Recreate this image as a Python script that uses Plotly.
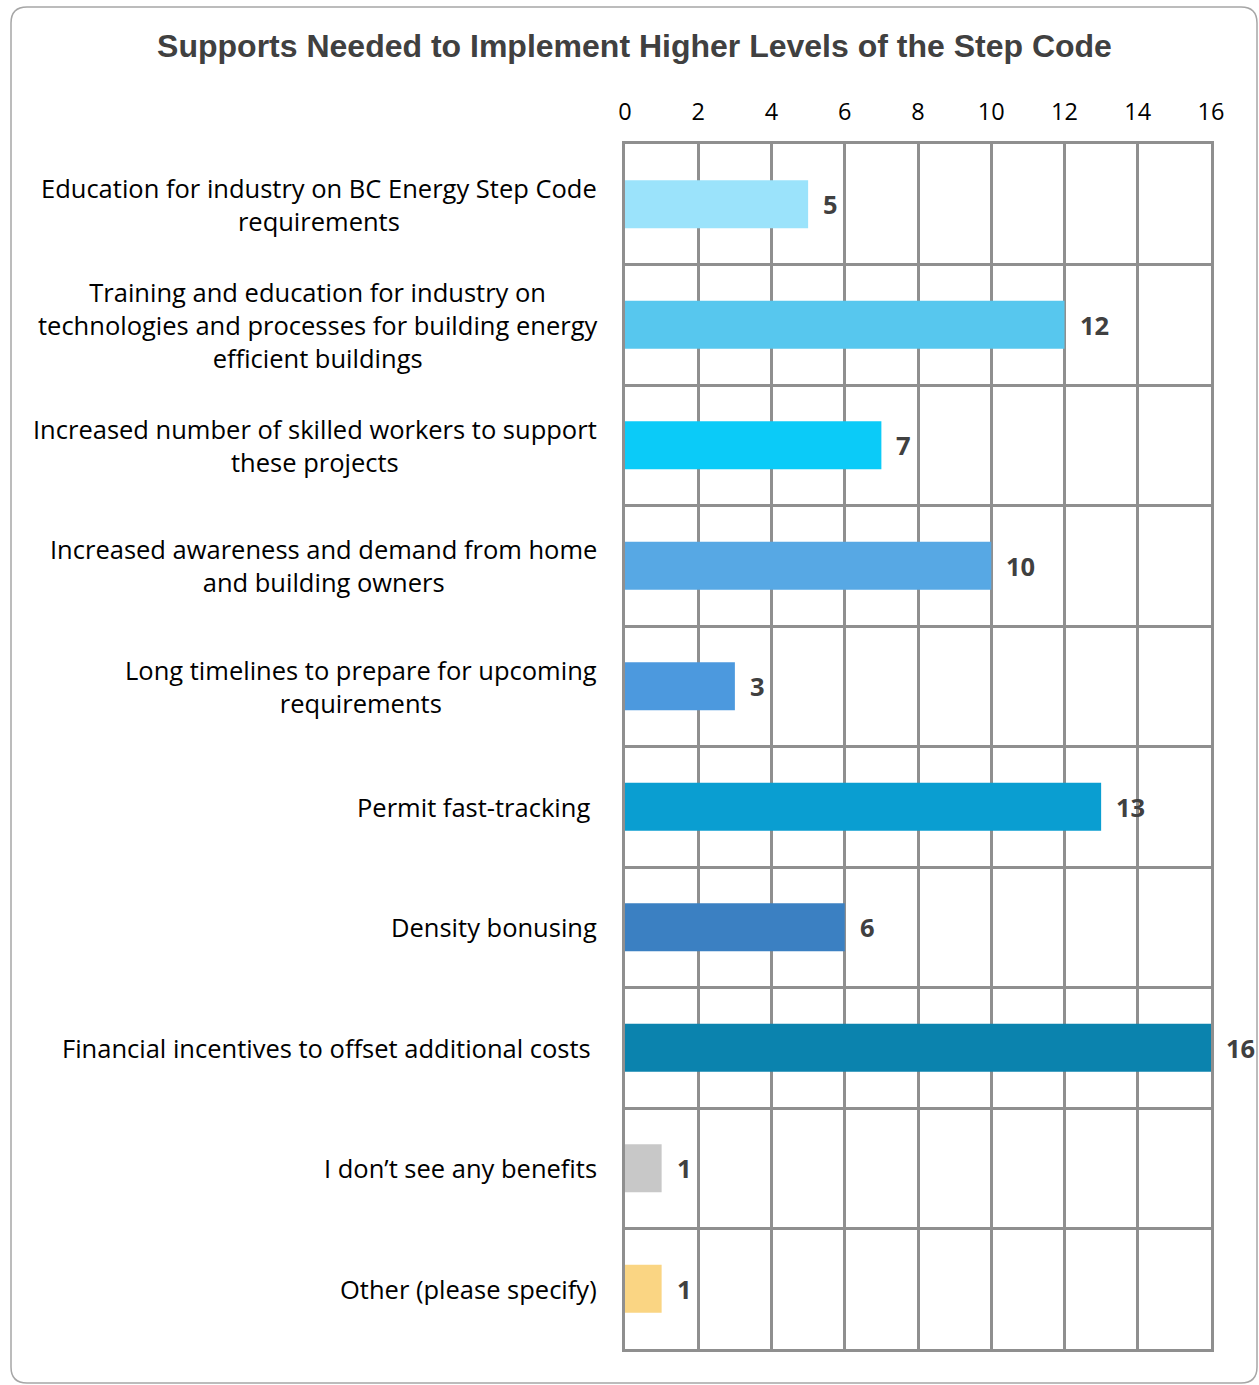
import plotly.graph_objects as go

categories = [
    "Education for industry on BC Energy Step Code<br>requirements",
    "Training and education for industry on<br>technologies and processes for building energy<br>efficient buildings",
    "Increased number of skilled workers to support<br>these projects",
    "Increased awareness and demand from home<br>and building owners",
    "Long timelines to prepare for upcoming<br>requirements",
    "Permit fast-tracking ",
    "Density bonusing",
    "Financial incentives to offset additional costs ",
    "I don’t see any benefits",
    "Other (please specify)",
]
values = [5, 12, 7, 10, 3, 13, 6, 16, 1, 1]
bar_colors = ["#9BE3FB", "#57C7EE", "#0BCBF8", "#57A8E4", "#4C99DE",
              "#0A9ED1", "#3B80C2", "#0B83AE", "#C8C8C8", "#FAD583"]
x_ticks = [0, 2, 4, 6, 8, 10, 12, 14, 16]

ids = [f"c{i}" for i in range(len(categories))]

W, H = 1259, 1385
L, R, T, B = 625, 48, 144, 36
pw, ph = W - L - R, H - T - B

fig = go.Figure()
fig.add_trace(go.Bar(
    y=ids, x=values, orientation="h",
    marker=dict(color=bar_colors, line=dict(width=0)),
    width=0.4, hoverinfo="skip",
))

grid = "#8F8F8F"
annotations = []
for cid, cat, v in zip(ids, categories, values):
    annotations.append(dict(
        xref="paper", yref="y", x=(599 - L) / pw, y=cid,
        xanchor="right", yanchor="middle", align="center",
        text=cat, showarrow=False,
        font=dict(family="Open Sans", size=25.5, color="#000000"),
    ))
    annotations.append(dict(
        xref="x", yref="y", x=v, y=cid, xanchor="left", yanchor="middle",
        xshift=13, text=f"<b>{v}</b>", showarrow=False,
        font=dict(family="Open Sans", size=25.5, color="#404040"),
    ))

def px2paper_x(px):
    return (px - L) / pw

def px2paper_y(py):
    return (H - B - py) / ph

x0, x1, y0, y1 = 11, 1257, 7, 1383
r = 16
rx, ry = r / pw, r / ph
X0, X1 = px2paper_x(x0), px2paper_x(x1)
Y0, Y1 = px2paper_y(y1), px2paper_y(y0)  # bottom, top
path = (f"M {X0+rx},{Y1} L {X1-rx},{Y1} Q {X1},{Y1} {X1},{Y1-ry} "
        f"L {X1},{Y0+ry} Q {X1},{Y0} {X1-rx},{Y0} "
        f"L {X0+rx},{Y0} Q {X0},{Y0} {X0},{Y0+ry} "
        f"L {X0},{Y1-ry} Q {X0},{Y1} {X0+rx},{Y1} Z")

fig.update_layout(
    width=W, height=H,
    margin=dict(l=L, r=R, t=T, b=B),
    paper_bgcolor="white", plot_bgcolor="white",
    showlegend=False,
    title=dict(
        text="<b>Supports Needed to Implement Higher Levels of the Step Code</b>",
        x=634.5 / W, xanchor="center", y=1 - 46 / H, yanchor="middle",
        font=dict(family="Liberation Sans", size=32, color="#404040"),
    ),
    xaxis=dict(
        side="top", range=[0, 16], tickvals=x_ticks,
        showgrid=True, gridcolor=grid, gridwidth=2.5,
        showline=True, linecolor=grid, linewidth=2.5, mirror=True,
        zeroline=False, ticks="", ticklabelstandoff=12,
        tickfont=dict(family="Open Sans", size=23.5, color="#000000"),
    ),
    yaxis=dict(
        type="category", autorange="reversed", tickson="boundaries",
        showgrid=True, gridcolor=grid, gridwidth=2.5,
        showline=True, linecolor=grid, linewidth=2.5, mirror=True,
        showticklabels=False, ticks="",
    ),
    annotations=annotations,
    shapes=[dict(type="path", xref="paper", yref="paper", path=path,
                 line=dict(color="#A6A6A6", width=1.5), layer="below")],
)

fig.write_html("out.html")
